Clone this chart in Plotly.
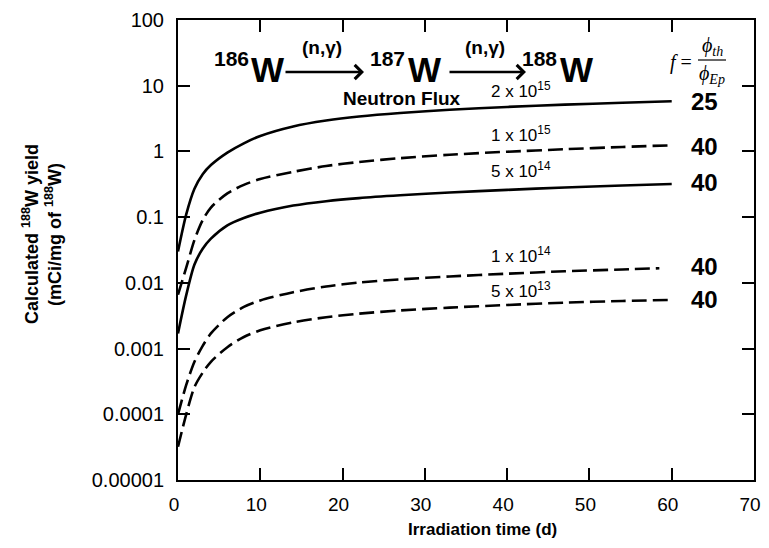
import plotly.graph_objects as go

# ---------------- data ----------------
t_days = [0, 1, 2, 3, 4, 6, 8, 10, 14, 18, 22, 27, 33, 40, 47, 54, 60]
t_days_1e14 = [0, 1, 2, 3, 4, 6, 8, 10, 14, 18, 22, 27, 33, 40, 47, 54, 58.5]

yield_2e15 = [0.03, 0.11, 0.27, 0.45, 0.62, 0.96, 1.33, 1.72, 2.4, 2.95, 3.4, 3.85, 4.3, 4.75, 5.15, 5.5, 5.8]
yield_1e15 = [0.0066, 0.017, 0.045, 0.09, 0.14, 0.23, 0.31, 0.38, 0.49, 0.6, 0.69, 0.79, 0.89, 0.99, 1.08, 1.17, 1.24]
yield_5e14 = [0.0017, 0.0065, 0.019, 0.033, 0.047, 0.075, 0.097, 0.117, 0.15, 0.175, 0.195, 0.215, 0.237, 0.26, 0.283, 0.303, 0.32]
yield_1e14 = [0.0001, 0.00028, 0.00063, 0.0011, 0.0017, 0.003, 0.0043, 0.0054, 0.0072, 0.0088, 0.0101, 0.0113, 0.0125, 0.0138, 0.015, 0.016, 0.0167]
yield_5e13 = [0.000032, 0.0001, 0.00026, 0.00043, 0.00063, 0.00105, 0.0015, 0.0019, 0.0025, 0.003, 0.0034, 0.0038, 0.0042, 0.0046, 0.005, 0.0053, 0.0055]

flux_labels = ["2 x 10<sup>15</sup>", "1 x 10<sup>15</sup>", "5 x 10<sup>14</sup>", "1 x 10<sup>14</sup>", "5 x 10<sup>13</sup>"]
f_labels = ["25", "40", "40", "40", "40"]

y_tickvals = [100, 10, 1, 0.1, 0.01, 0.001, 0.0001, 0.00001]
y_ticktext = ["100", "10", "1", "0.1", "0.01", "0.001", "0.0001", "0.00001"]
x_tickvals = [0, 10, 20, 30, 40, 50, 60, 70]

# ---------------- layout helpers (page pixel coordinates) ----------------
OFF = 8                      # default body margin of the html page
PAGE_W, PAGE_H = 769, 548
W, H = PAGE_W - 2 * OFF, PAGE_H - 2 * OFF   # keep page free of scrollbars
X0, X1 = 178, 754            # plot area in page pixels
Y0, Y1 = 20, 480
L, R = X0 - OFF, (OFF + W) - X1
T, B = Y0 - OFF, (OFF + H) - Y1


def px(x):
    return (x - X0) / (X1 - X0)


def py(y):
    return (Y1 - y) / (Y1 - Y0)


SANS = "Liberation Sans, Arial, sans-serif"
SERIF = "Liberation Serif, Times New Roman, serif"

fig = go.Figure()

series = [
    (t_days, yield_2e15, "solid"),
    (t_days, yield_1e15, "15px,6px"),
    (t_days, yield_5e14, "solid"),
    (t_days_1e14, yield_1e14, "15px,6px"),
    (t_days, yield_5e13, "15px,6px"),
]
for tx, yy, dash in series:
    fig.add_trace(go.Scatter(
        x=tx, y=yy, mode="lines",
        line=dict(color="black", width=2.6, dash=dash, shape="spline", smoothing=0.8),
        showlegend=False, hoverinfo="skip",
    ))

ann = []


def text(x, y, s, size, bold=False, family=SANS, angle=0):
    if bold:
        s = "<b>" + s + "</b>"
    ann.append(dict(x=px(x), y=py(y), xref="paper", yref="paper", text=s,
                    showarrow=False, xanchor="center", yanchor="middle",
                    textangle=angle,
                    font=dict(size=size, family=family, color="black")))


# reaction scheme
text(231, 59, "186", 21, bold=True)
text(267, 69, "W", 35, bold=True)
text(322, 48, "(n,γ)", 19, bold=True)
text(387, 59, "187", 21, bold=True)
text(424, 69, "W", 35, bold=True)
text(485, 48, "(n,γ)", 19, bold=True)
text(539, 59, "188", 21, bold=True)
text(576, 69, "W", 35, bold=True)

for xa, xb in [(284, 364), (448, 526)]:
    ann.append(dict(x=px(xb), y=py(72), xref="paper", yref="paper",
                    ax=xa - xb, ay=0, axref="pixel", ayref="pixel",
                    showarrow=True, arrowhead=4, arrowsize=1.1, arrowwidth=2.5,
                    arrowcolor="black", text=""))

# neutron flux labels
text(402, 98, "Neutron Flux", 19, bold=True)
flux_y = [90, 134, 170, 255, 290]
for lab, yv in zip(flux_labels, flux_y):
    text(521, yv, lab, 17)

# f labels
f_y = [102, 146, 183, 266, 299]
for lab, yv in zip(f_labels, f_y):
    text(704, yv, lab, 24, bold=True)

# f = phi_th / phi_Ep
text(681, 62, "<i>f</i> =", 20, family=SERIF)
text(712, 46, "<i>ϕ<sub>th</sub></i>", 20, family=SERIF)
text(712, 75, "<i>ϕ<sub>Ep</sub></i>", 20, family=SERIF)

# axis titles
text(30, 234, "Calculated <sup>188</sup>W yield", 18, bold=True, angle=-90)
text(54, 235, "(mCi/mg of <sup>188</sup>W)", 18, bold=True, angle=-90)
text(482, 529, "Irradiation time (d)", 17, bold=True)

fig.update_layout(
    width=W, height=H, autosize=False,
    margin=dict(l=L, r=R, t=T, b=B, pad=0, autoexpand=False),
    plot_bgcolor="white", paper_bgcolor="white",
    annotations=ann,
    shapes=[dict(type="line", xref="paper", yref="paper",
                 x0=px(698), x1=px(726), y0=py(60), y1=py(60),
                 line=dict(color="black", width=1.2))],
)

fig.update_xaxes(
    range=[0, 70], tickvals=x_tickvals, ticks="inside", ticklen=12, tickwidth=2,
    tickcolor="black", showline=True, linecolor="black", linewidth=2,
    mirror="ticks", showgrid=False, zeroline=False, automargin=False,
    ticklabeloverflow="allow", ticklabelshift=-4,
    tickfont=dict(size=19, family=SANS, color="black"), ticklabelstandoff=6,
)
fig.update_yaxes(
    type="log", range=[-5, 2], tickvals=y_tickvals, ticktext=y_ticktext,
    ticks="inside", ticklen=12, tickwidth=2, tickcolor="black",
    showline=True, linecolor="black", linewidth=2, mirror="ticks",
    showgrid=False, zeroline=False, automargin=False,
    ticklabeloverflow="allow",
    tickfont=dict(size=20, family=SANS, color="black"), ticklabelstandoff=8,
)

fig.write_html("out.html")
